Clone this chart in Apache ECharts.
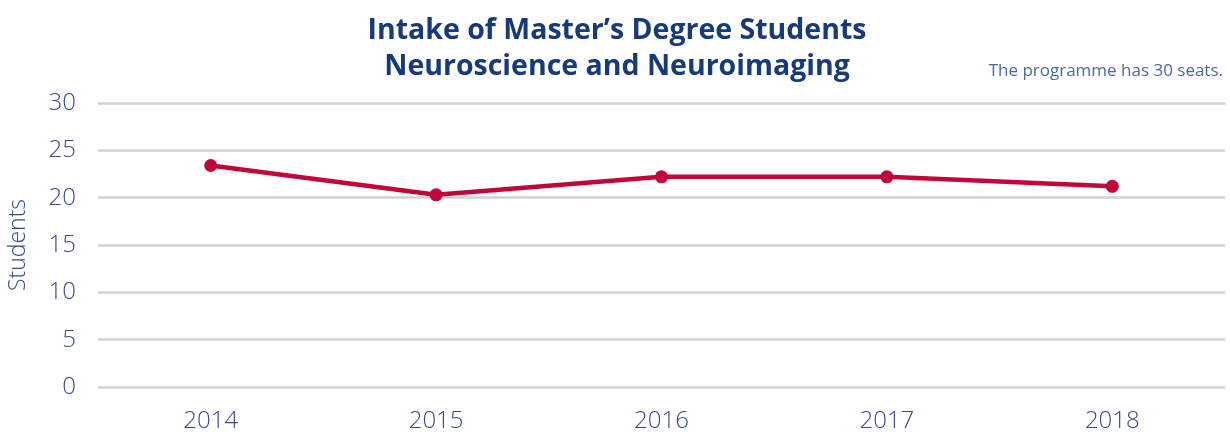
<!DOCTYPE html>
<html>
<head>
<meta charset="utf-8">
<script src="https://cdn.jsdelivr.net/npm/echarts@6/dist/echarts.min.js"></script>
<style>
  html, body { margin: 0; padding: 0; background: #fff; }
  #chart { width: 1230px; height: 434px; }
</style>
</head>
<body>
<div id="chart"></div>
<script>
// data
const years = ['2014', '2015', '2016', '2017', '2018']
const intake = [23.4, 20.3, 22.2, 22.2, 21.2]
const yTicks = { min: 0, max: 30, interval: 5 }

const chart = echarts.init(document.getElementById('chart'))

const labelFont = {
  color: '#3a4a8c',
  fontFamily: 'Open Sans',
  fontWeight: 300,
  fontSize: 24
}

const option = {
  backgroundColor: '#fff',
  title: [
    {
      text: 'Intake of Master\u2019s Degree Students\nNeuroscience and Neuroimaging',
      left: 612,
      top: 8,
      textAlign: 'center',
      textStyle: {
        color: '#163a7c',
        fontFamily: 'Open Sans',
        fontWeight: 'bold',
        fontSize: 28.5,
        lineHeight: 36
      }
    },
    {
      text: 'The programme has 30 seats.',
      right: 2,
      top: 58,
      textStyle: {
        color: '#4b68a6',
        fontFamily: 'Open Sans',
        fontWeight: 'normal',
        fontSize: 17
      }
    }
  ],
  grid: {
    left: 98,
    right: 5,
    top: 103,
    bottom: 47,
    containLabel: false,
    outerBoundsMode: 'none'
  },
  xAxis: {
    type: 'category',
    data: years,
    boundaryGap: true,
    axisLine: { show: false },
    axisTick: { show: false },
    axisLabel: Object.assign({ margin: 22 }, labelFont)
  },
  yAxis: {
    type: 'value',
    min: yTicks.min,
    max: yTicks.max,
    interval: yTicks.interval,
    name: 'Students',
    nameLocation: 'middle',
    nameGap: 68,
    nameTextStyle: Object.assign({}, labelFont, { fontSize: 23 }),
    axisLine: { show: false },
    axisTick: { show: false },
    axisLabel: Object.assign({ margin: 22 }, labelFont),
    splitLine: {
      lineStyle: { color: '#d2d2d2', width: 2.5 }
    }
  },
  series: [
    {
      name: 'Intake',
      type: 'line',
      data: intake,
      symbol: 'circle',
      symbolSize: 13,
      color: '#c3063a',
      lineStyle: { width: 4.5, color: '#c3063a' },
      itemStyle: { color: '#c3063a' },
      animation: false
    }
  ]
}

chart.setOption(option)
</script>
</body>
</html>
